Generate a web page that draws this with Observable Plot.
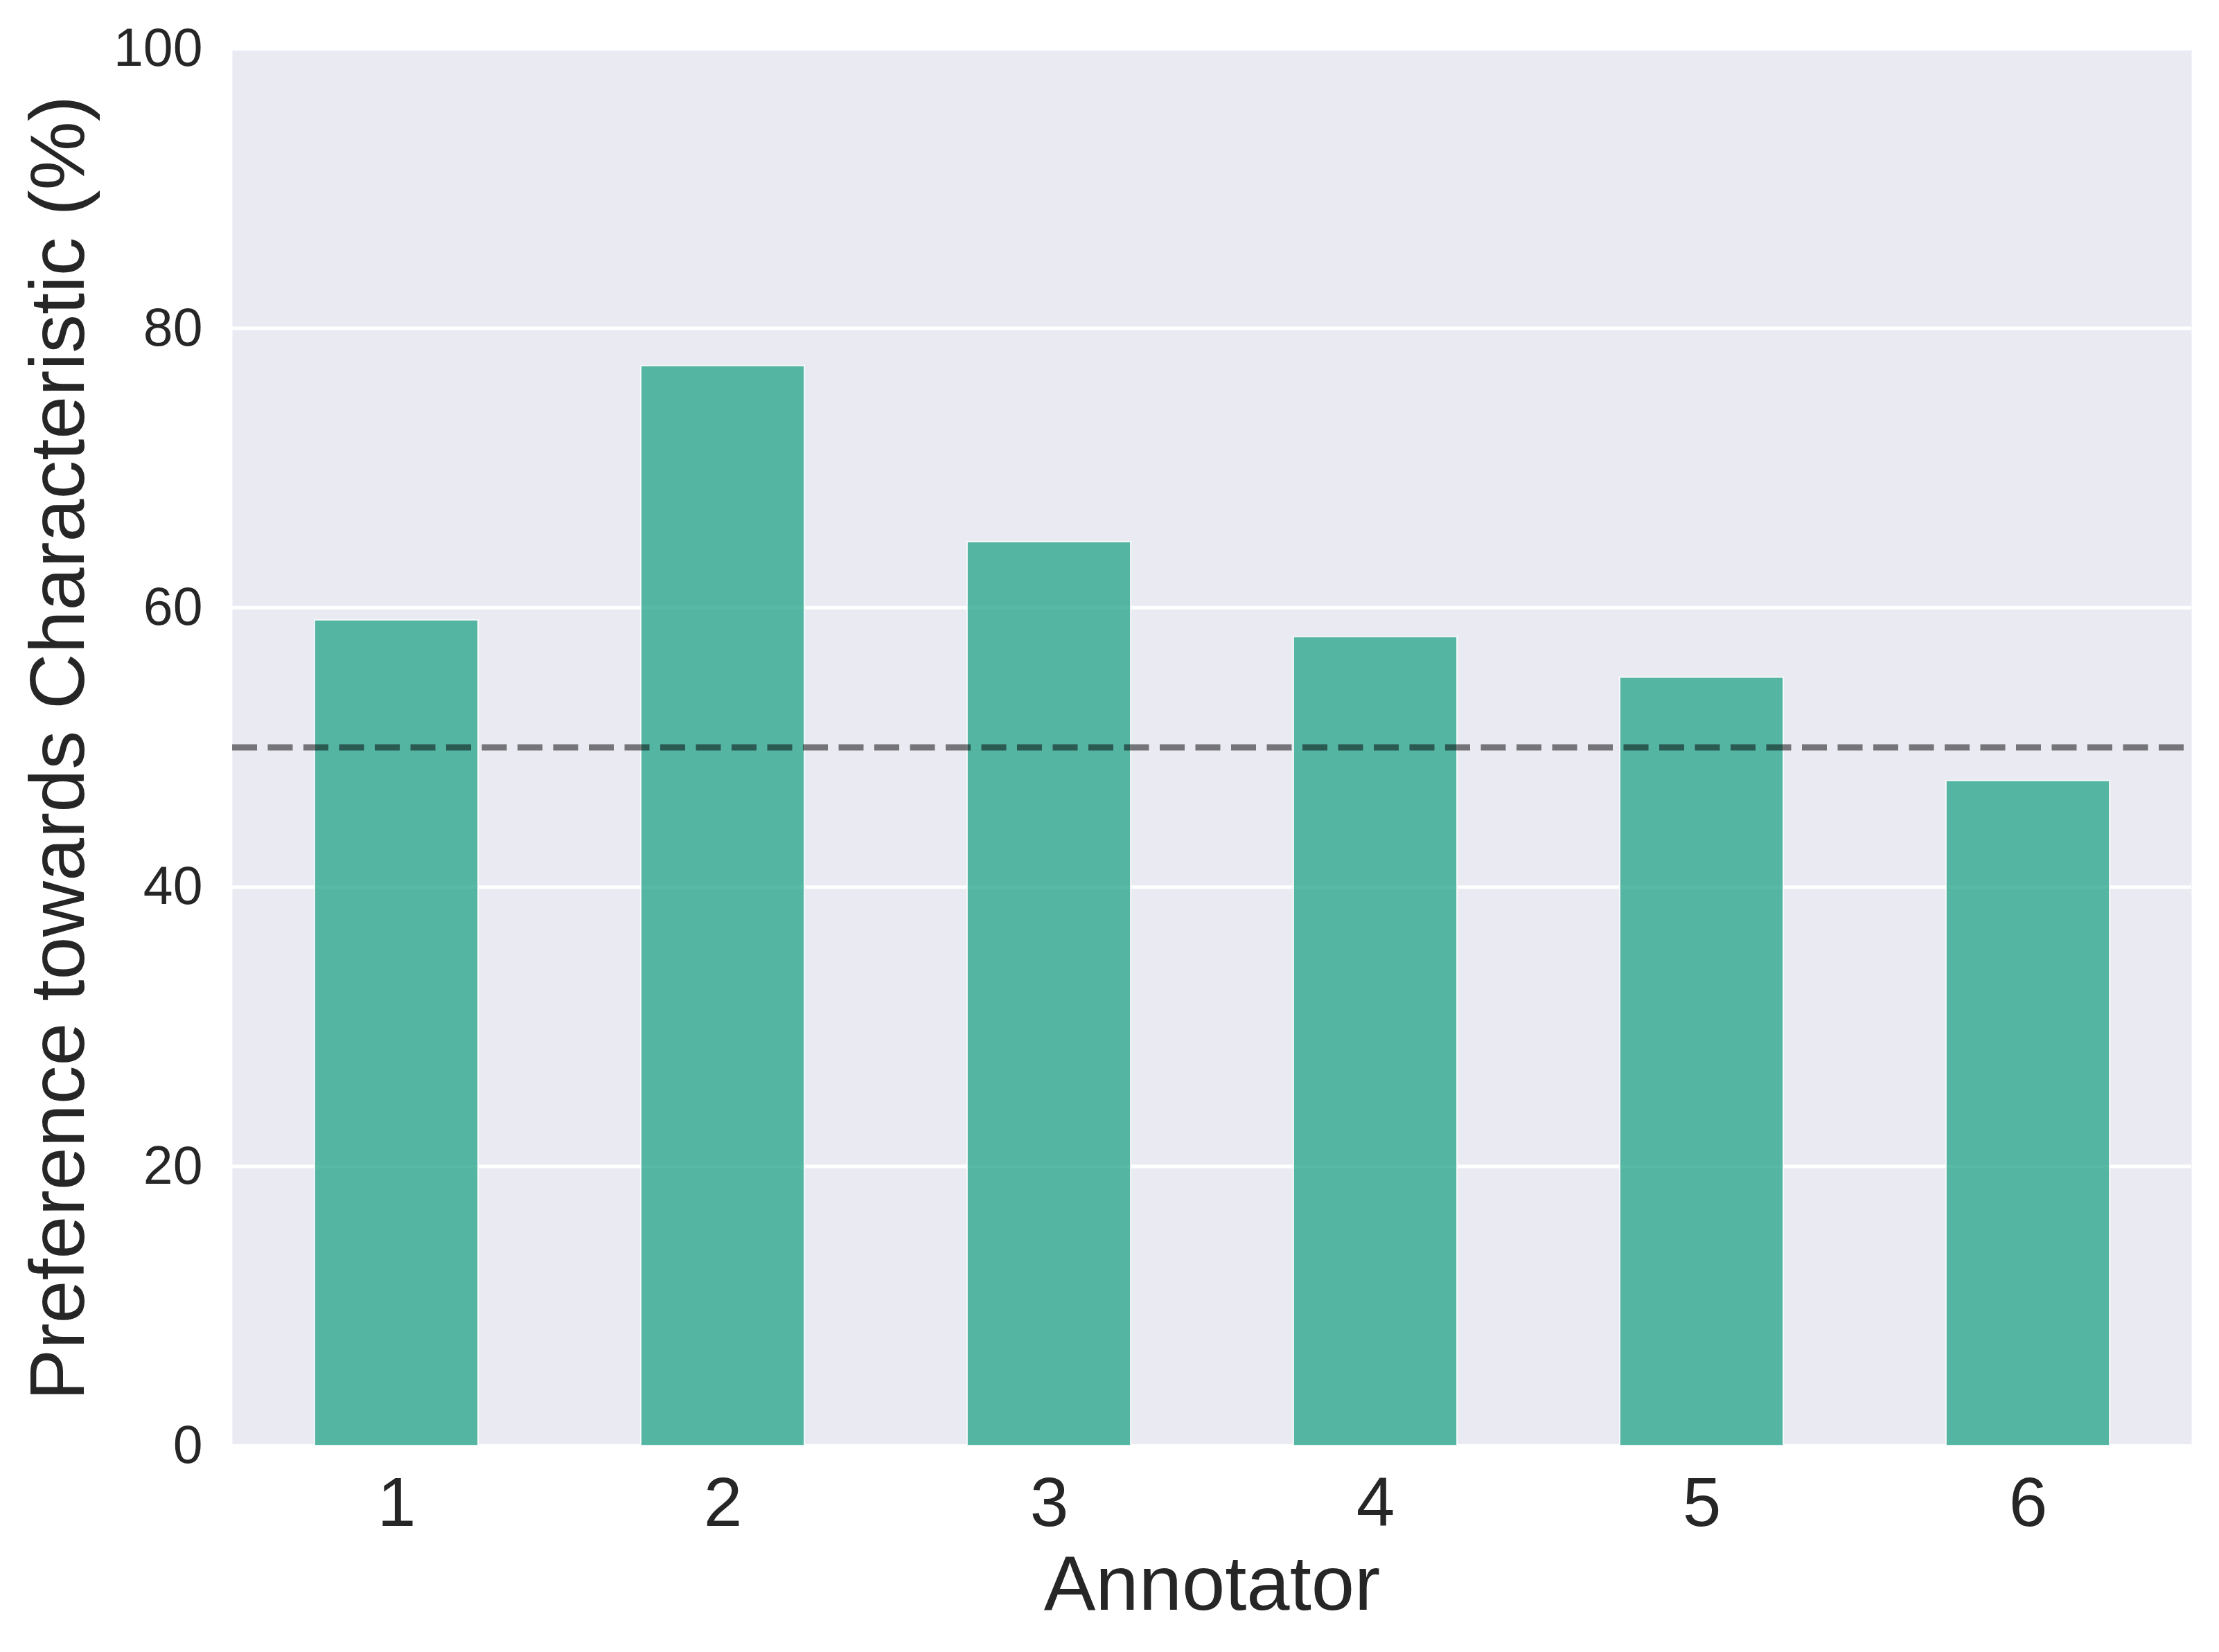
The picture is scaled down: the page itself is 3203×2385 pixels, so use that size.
<!DOCTYPE html>
<html>
<head>
<meta charset="utf-8">
<script src="https://cdn.jsdelivr.net/npm/d3@7"></script>
<script src="https://cdn.jsdelivr.net/npm/@observablehq/plot@0.6"></script>
<style>
  html, body { margin: 0; padding: 0; background: #ffffff; }
  #chart svg { display: block; }
</style>
</head>
<body>
<div id="chart"></div>
<script>
const annotators = ["1", "2", "3", "4", "5", "6"];
const preferences = [59.1, 77.3, 64.7, 57.9, 55.0, 47.6];
const yTicks = [0, 20, 40, 60, 80, 100];
const referenceLine = [50];
const xTitle = "Annotator";
const yTitle = "Preference towards Characteristic (%)";

const data = annotators.map((a, i) => ({annotator: a, value: preferences[i]}));

const chart = Plot.plot({
  width: 3203,
  height: 2385,
  marginLeft: 335,
  marginRight: 40,
  marginTop: 70,
  marginBottom: 298,
  style: {
    background: "#ffffff",
    color: "#262626",
    fontFamily: "'Liberation Sans', Arial, sans-serif"
  },
  x: {type: "band", domain: annotators, paddingInner: 0.5, paddingOuter: 0.25},
  y: {domain: [0, 100]},
  marks: [
    Plot.frame({fill: "#eaeaf2", stroke: null}),
    Plot.gridY(yTicks, {stroke: "#ffffff", strokeOpacity: 1, strokeWidth: 5}),
    Plot.barY(data, {x: "annotator", y: "value", fill: "#2ea88e", fillOpacity: 0.8, stroke: "#ffffff", strokeOpacity: 0.8, strokeWidth: 2}),
    Plot.ruleY(referenceLine, {stroke: "#000000", strokeOpacity: 0.5, strokeWidth: 9, strokeDasharray: "36,15.5"}),
    Plot.axisX({tickSize: 0, tickPadding: 44, fontSize: 100, label: null}),
    Plot.axisY({ticks: yTicks, tickSize: 0, tickPadding: 43, fontSize: 77, label: null}),
    Plot.text([xTitle], {text: d => d, frameAnchor: "bottom", dy: 201, fontSize: 112, lineAnchor: "middle", textAnchor: "middle", fill: "#262626"}),
    Plot.text([yTitle], {text: d => d, frameAnchor: "left", dx: -250, dy: 1, rotate: -90, fontSize: 111.5, lineAnchor: "middle", textAnchor: "middle", fill: "#262626"})
  ]
});

document.getElementById("chart").appendChild(chart);
</script>
</body>
</html>
